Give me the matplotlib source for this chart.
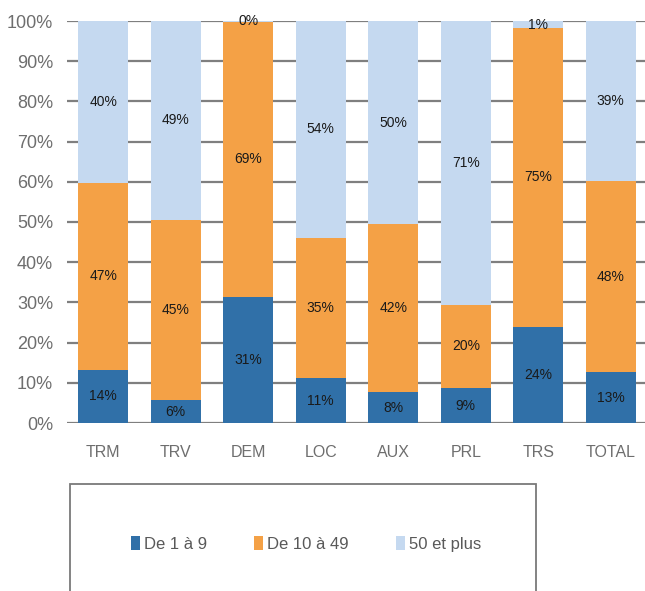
import numpy as np
import matplotlib.pyplot as plt
from matplotlib.patches import Rectangle

categories = ['TRM', 'TRV', 'DEM', 'LOC', 'AUX', 'PRL', 'TRS', 'TOTAL']
series_names = ['De 1 à 9', 'De 10 à 49', '50 et plus']

# segment heights (%)
small = [13.2, 5.7, 31.3, 11.1, 7.7, 8.7, 24.0, 12.6]
medium = [46.6, 44.8, 68.5, 35.0, 41.8, 20.7, 74.2, 47.6]
large = [40.2, 49.5, 0.2, 53.9, 50.5, 70.6, 1.8, 39.8]

# printed labels
small_lbl = ['14%', '6%', '31%', '11%', '8%', '9%', '24%', '13%']
medium_lbl = ['47%', '45%', '69%', '35%', '42%', '20%', '75%', '48%']
large_lbl = ['40%', '49%', '0%', '54%', '50%', '71%', '1%', '39%']

colors = ['#3070A8', '#F4A146', '#C5D9F0']

plt.rcParams['font.family'] = ['Liberation Sans', 'DejaVu Sans']

fig = plt.figure(figsize=(6.45, 5.91), dpi=100)
ax = fig.add_axes([67 / 645, 168 / 591, 580 / 645, 402 / 591])

x = np.arange(len(categories))
width = 0.69
bottom = np.zeros(len(categories))
handles = []
for vals, lbls, col, name in zip([small, medium, large],
                                 [small_lbl, medium_lbl, large_lbl],
                                 colors, series_names):
    vals = np.array(vals)
    b = ax.bar(x, vals, width, bottom=bottom, color=col, label=name, zorder=3)
    handles.append(b)
    for xi, v, bt, t in zip(x, vals, bottom, lbls):
        ax.text(xi, bt + v / 2, t, ha='center', va='center', fontsize=10,
                color='#1a1a1a', zorder=4)
    bottom += vals

ax.set_xlim(-0.5, len(categories) - 0.5)
ax.set_ylim(0, 100)
ax.set_yticks(range(0, 101, 10))
ax.set_yticklabels([f'{v}%' for v in range(0, 101, 10)])
ax.set_xticks(x)
ax.set_xticklabels(categories)
ax.tick_params(axis='y', length=0, pad=10, labelsize=13, labelcolor='#6e6e6e')
ax.tick_params(axis='x', length=0, pad=16, labelsize=11.5, labelcolor='#6e6e6e')
ax.yaxis.grid(True, color='#7f7f7f', linewidth=1.6, zorder=0)
ax.set_axisbelow(True)
for s in ax.spines.values():
    s.set_visible(False)

# legend frame
fig.patches.append(Rectangle((70 / 645, -0.05), 466 / 645, (591 - 484) / 591 + 0.05,
                             transform=fig.transFigure, fill=False,
                             edgecolor='#7a7a7a', linewidth=1.3))
fig.legend(handles=handles, loc='center', bbox_to_anchor=(306 / 645, 1 - 544 / 591),
           ncol=3, frameon=False, fontsize=12, handlelength=0.55, handleheight=0.9,
           handletextpad=0.25, columnspacing=2.8, labelcolor='#595959')

fig.savefig('out.png', dpi=100)
